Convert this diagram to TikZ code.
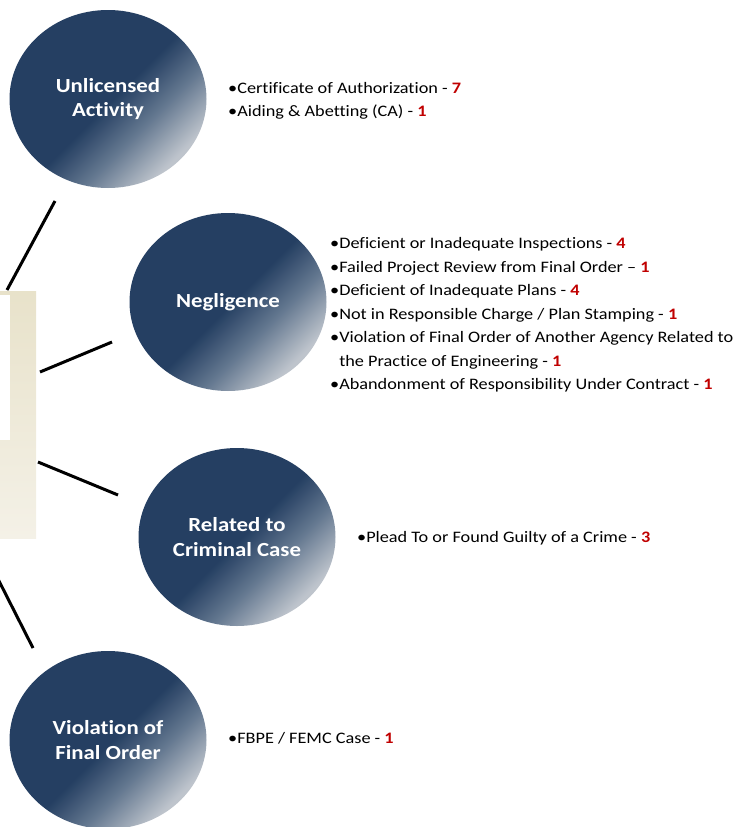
\documentclass[tikz,border=0pt]{standalone}
\usepackage{fontspec}
\setmainfont{Carlito}[FakeStretch=1.14, Ligatures={NoCommon}]
\usetikzlibrary{shapes.geometric}
\definecolor{navy}{RGB}{37,63,98}
\definecolor{navymid}{RGB}{100,120,144}
\definecolor{navylight}{RGB}{190,196,204}
\definecolor{numred}{RGB}{192,0,0}
\definecolor{beigetop}{RGB}{232,226,202}
\definecolor{beigebot}{RGB}{244,241,231}
\pgfdeclarehorizontalshading{ellshade}{100bp}{color(0bp)=(navy); color(51bp)=(navy); color(62bp)=(navymid); color(74bp)=(navylight); color(100bp)=(navylight)}
\newcommand{\num}[1]{\textcolor{numred}{\textbf{#1}}}
\newcommand{\bul}{\textbullet}
\begin{document}
\begin{tikzpicture}[x=1pt,y=-1pt,
  topic/.style={ellipse, draw=none, shading=ellshade, shading angle=-45,
    minimum width=197pt, minimum height=178pt, inner sep=0pt,
    text=white, font=\fontsize{20}{24.5}\selectfont\bfseries, align=center},
  items/.style={anchor=west, inner sep=0pt, align=left,
    font=\fontsize{16}{23.5}\selectfont},
  link/.style={line width=3pt, black}]
\useasboundingbox (0,0) rectangle (735,827);
% beige panel
\node[draw=none, inner sep=0pt, minimum width=36pt, minimum height=247pt, anchor=north west,
  top color=beigetop, bottom color=beigebot] (panel) at (0,291) {};
\node[fill=white, draw=none, inner sep=0pt, minimum width=10pt, minimum height=145pt, anchor=north west] (panelin) at (0,295) {};
% topics
\node[topic] (unl) at (108,99) {Unlicensed\\Activity};
\node[topic] (neg) at (228,302) {Negligence};
\node[topic] (crim) at (237,537) {Related to\\Criminal Case};
\node[topic] (viol) at (108,740) {Violation of\\Final Order};
% lists
\node[items] (unlL) at (228,101) {\bul Certificate of Authorization - \num{7}\\
\bul Aiding \& Abetting (CA) - \num{1}};
\node[items] (negL) at (330,315) {\bul Deficient or Inadequate Inspections - \num{4}\\
\bul Failed Project Review from Final Order -- \num{1}\\
\bul Deficient of Inadequate Plans - \num{4}\\
\bul Not in Responsible Charge / Plan Stamping - \num{1}\\
\bul Violation of Final Order of Another Agency Related to\\
\phantom{\bul}the Practice of Engineering - \num{1}\\
\bul Abandonment of Responsibility Under Contract - \num{1}};
\node[items] (crimL) at (357,538.5) {\bul Plead To or Found Guilty of a Crime - \num{3}};
\node[items] (violL) at (228,738.5) {\bul FBPE / FEMC Case - \num{1}};
% connectors
\coordinate (c1a) at (55,201); \coordinate (c1b) at (7,290);
\coordinate (c2a) at (112,342); \coordinate (c2b) at (40,372);
\coordinate (c3a) at (118,495); \coordinate (c3b) at (38,462);
\coordinate (c4a) at (33,648); \coordinate (c4b) at (-2,579);
\draw[link] (c1a) -- (c1b);
\draw[link] (c2a) -- (c2b);
\draw[link] (c3a) -- (c3b);
\draw[link] (c4a) -- (c4b);
\end{tikzpicture}
\end{document}
